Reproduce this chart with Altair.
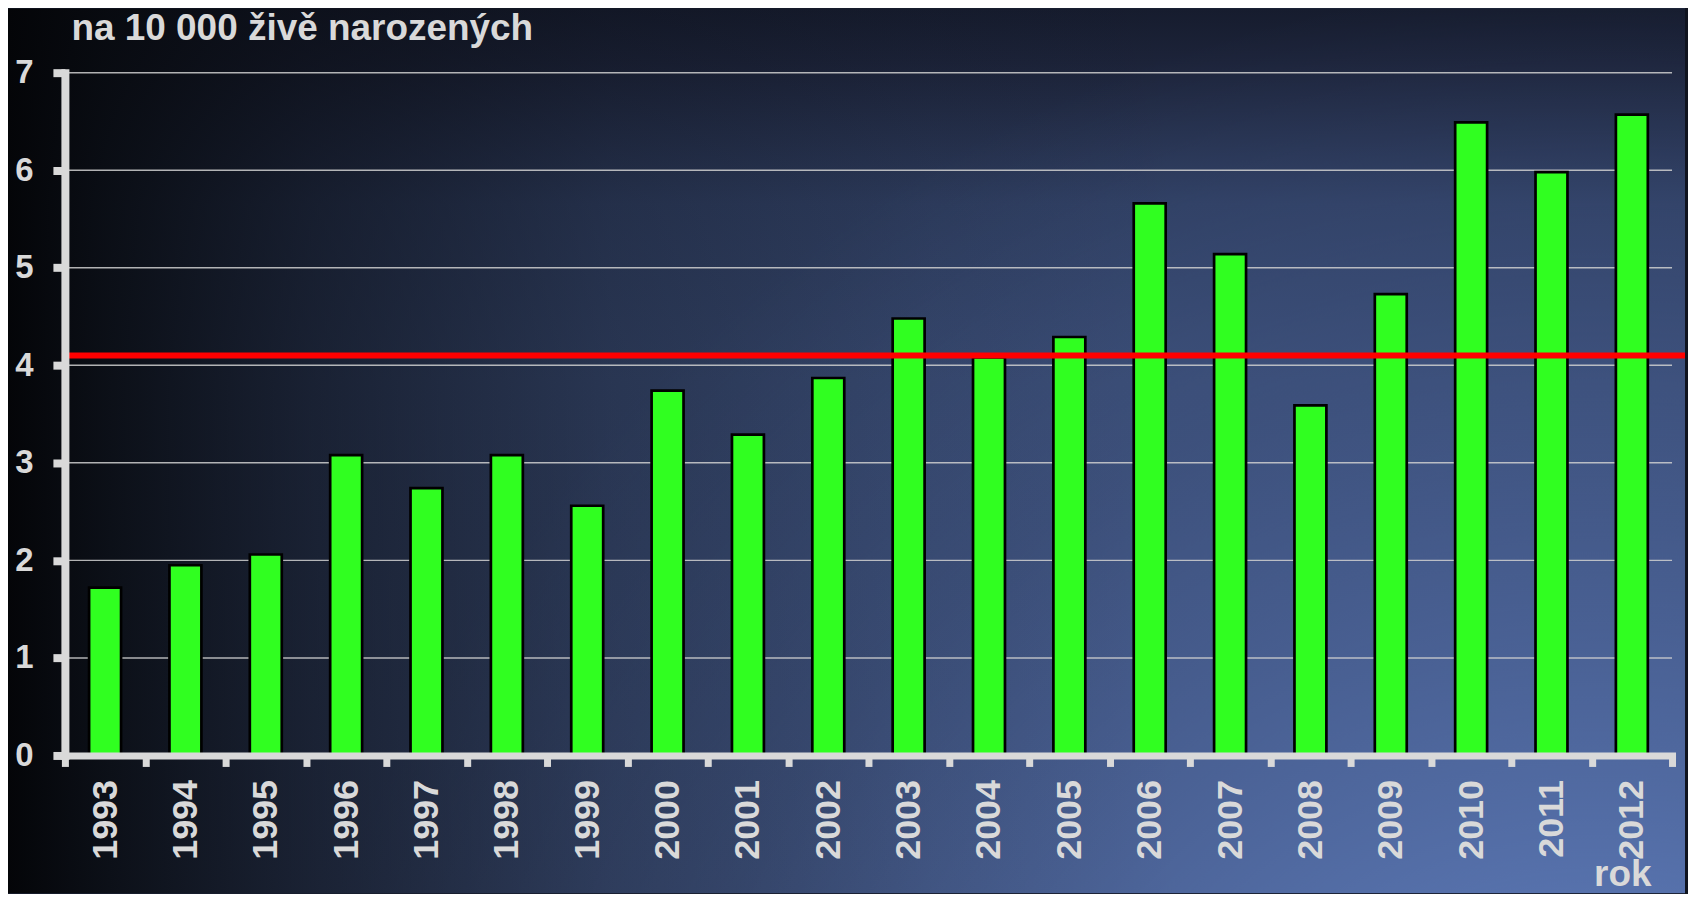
import altair as alt
import pandas as pd

# ---- data ----
years = ["1993", "1994", "1995", "1996", "1997", "1998", "1999", "2000", "2001", "2002",
         "2003", "2004", "2005", "2006", "2007", "2008", "2009", "2010", "2011", "2012"]
values = [1.72, 1.95, 2.06, 3.08, 2.74, 3.08, 2.56, 3.74, 3.29, 3.87,
          4.48, 4.08, 4.29, 5.66, 5.14, 3.59, 4.73, 6.49, 5.98, 6.57]
y_ticks = [0, 1, 2, 3, 4, 5, 6, 7]
grid_values = [1, 2, 3, 4, 5, 6, 7]
reference_value = [4.1]

y_title = "na 10 000 živě narozených"
x_title = "rok"

df = pd.DataFrame({"rok": years, "v": values})
grid_df = pd.DataFrame({"v": grid_values})
ref_df = pd.DataFrame({"v": reference_value})
one = pd.DataFrame({"k": [0]})

W, H = 1610, 684
FONT = "Liberation Sans"
LIGHT = "#d9d9d9"

# background extents (plot coordinates)
BX0, BX1, BY0, BY1 = -57, 1623, -64, 822

yscale = alt.Scale(domain=[0, 7], nice=False, zero=True)


def bg(fill):
    return alt.Chart(one).mark_rect(fill=fill, strokeWidth=0).encode(
        x=alt.value(BX0), x2=alt.value(BX1), y=alt.value(BY0), y2=alt.value(BY1)
    )


base_grad = alt.LinearGradient(
    gradient="linear", x1=0, y1=0, x2=0, y2=1,
    stops=[
        alt.GradientStop(color="#161c2e", offset=0),
        alt.GradientStop(color="#1c2339", offset=0.06),
        alt.GradientStop(color="#2e3d5f", offset=0.22),
        alt.GradientStop(color="#35466b", offset=0.42),
        alt.GradientStop(color="#38496e", offset=1),
    ],
)
glow_grad = alt.RadialGradient(
    gradient="radial", x1=0.95, y1=1.02, r1=0, x2=0.95, y2=1.02, r2=0.8,
    stops=[
        alt.GradientStop(color="rgba(112,146,216,0.98)", offset=0),
        alt.GradientStop(color="rgba(102,134,204,0.62)", offset=0.35),
        alt.GradientStop(color="rgba(92,122,192,0.2)", offset=0.72),
        alt.GradientStop(color="rgba(90,120,190,0)", offset=1),
    ],
)
left_grad = alt.LinearGradient(
    gradient="linear", x1=0, y1=0, x2=1, y2=0,
    stops=[
        alt.GradientStop(color="rgba(4,5,8,1)", offset=0),
        alt.GradientStop(color="rgba(6,8,12,0.88)", offset=0.06),
        alt.GradientStop(color="rgba(8,10,16,0.62)", offset=0.18),
        alt.GradientStop(color="rgba(8,10,16,0.27)", offset=0.36),
        alt.GradientStop(color="rgba(8,10,16,0.08)", offset=0.55),
        alt.GradientStop(color="rgba(8,10,16,0)", offset=0.7),
    ],
)

grid = alt.Chart(grid_df).mark_rule(color="#d0d0d0", strokeWidth=1.5, opacity=0.85).encode(
    y=alt.Y("v:Q", scale=yscale)
)

bars = alt.Chart(df).mark_bar(size=32, color="#30ff20", stroke="#000000", strokeWidth=2.7).encode(
    x=alt.X(
        "rok:N", sort=years,
        scale=alt.Scale(paddingInner=0, paddingOuter=0),
        axis=alt.Axis(
            title=x_title, titleFont=FONT, titleFontSize=37, titleFontWeight="bold", titleColor=LIGHT,
            titleX=1589, titleY=130, titleAlign="right", titleBaseline="alphabetic", titleAngle=0,
            labelAngle=-90, labelAlign="right", labelBaseline="middle",
            labelFont=FONT, labelFontSize=36, labelFontWeight="bold", labelColor=LIGHT,
            labelPadding=13, labelOverlap=False,
            tickBand="extent", tickSize=11, tickWidth=7, tickColor=LIGHT,
            domainColor=LIGHT, domainWidth=7, domainCap="square",
            grid=False, zindex=1,
        ),
    ),
    y=alt.Y(
        "v:Q", scale=yscale,
        axis=alt.Axis(
            values=y_ticks, format="d", grid=False,
            title=y_title, titleFont=FONT, titleFontSize=37, titleFontWeight="bold", titleColor=LIGHT,
            titleAngle=0, titleX=6, titleY=-33, titleAlign="left", titleBaseline="alphabetic",
            labelFont=FONT, labelFontSize=33, labelFontWeight="bold", labelColor=LIGHT,
            labelPadding=20,
            tickSize=12, tickWidth=8, tickColor=LIGHT,
            domainColor=LIGHT, domainWidth=8, domainCap="square",
            zindex=1,
        ),
    ),
)

ref = alt.Chart(ref_df).mark_rule(color="#ff0000", strokeWidth=6).encode(
    y=alt.Y("v:Q", scale=yscale), x=alt.value(-3), x2=alt.value(BX1)
)

chart = alt.layer(
    bg(base_grad), bg(glow_grad), bg(left_grad), grid, bars, ref
).properties(
    width=W, height=H, padding=0, background="#10141f"
).configure_view(strokeWidth=0)

chart.save("out.html", embed_options={"renderer": "svg", "actions": False})
